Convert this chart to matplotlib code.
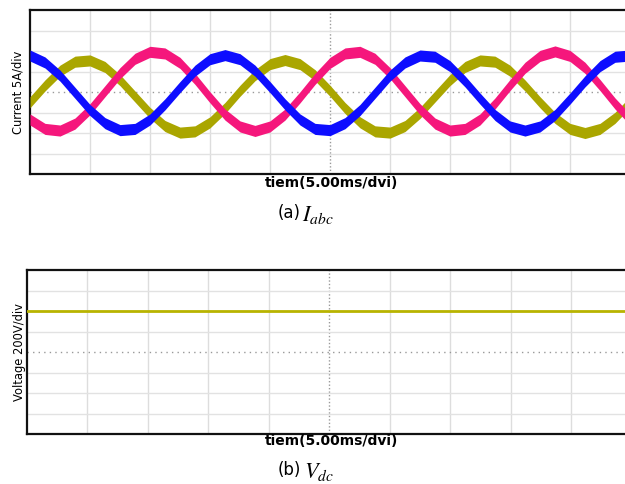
import numpy as np
import matplotlib
matplotlib.use('Agg')
import matplotlib.pyplot as plt

plt.rcParams['mathtext.fontset'] = 'stix'

# time samples (ms), 5 ms/div, 10 div
t_ms = np.arange(41) * 1.25

# three phase currents (A)
ia = [-2.5, 1.6, 5.2, 7.4, 7.7, 6.1, 2.9, -1.1, -5.1, -8.3,
      -9.9, -9.6, -7.4, -3.9, 0.3, 4.1, 6.8, 7.8, 6.8, 4.1,
      0.3, -3.9, -7.4, -9.6, -9.9, -8.3, -5.1, -1.1, 2.9, 6.1,
      7.7, 7.4, 5.2, 1.6, -2.5, -6.3, -9.0, -10.0, -9.0, -6.3, -2.5]
ib = [-6.7, -9.0, -9.4, -7.7, -4.2, 0.2, 4.6, 8.1, 9.8, 9.4,
      7.1, 3.2, -1.3, -5.5, -8.4, -9.5, -8.4, -5.5, -1.3, 3.2,
      7.1, 9.4, 9.8, 8.1, 4.6, 0.2, -4.2, -7.7, -9.4, -9.0,
      -6.7, -2.8, 1.7, 5.9, 8.8, 9.9, 8.8, 5.9, 1.7, -2.8, -6.7]
ic = [8.9, 7.2, 4.0, -0.2, -4.4, -7.6, -9.3, -9.0, -6.7, -3.0,
      1.2, 5.2, 8.0, 9.0, 8.0, 5.2, 1.2, -3.0, -6.7, -9.0,
      -9.3, -7.6, -4.4, -0.2, 4.0, 7.2, 8.9, 8.6, 6.3, 2.6,
      -1.6, -5.6, -8.4, -9.4, -8.4, -5.6, -1.6, 2.6, 6.3, 8.6, 8.9]
ripple = 1.35  # half width of the switching ripple band (A)

# dc link voltage (V)
v_t = [0, 10, 20, 30, 40, 50]
vdc = [400, 400, 400, 400, 400, 400]

colors = ['#aaa600', '#f5177c', '#0d0dff']


def scope_grid(ax, ystep, ylim):
    ax.set_xlim(0, 50)
    ax.set_ylim(-ylim, ylim)
    for x in np.arange(5, 50, 5):
        if x == 25:
            ax.axvline(x, color='#999999', lw=1.0, ls=(0, (1, 1.5)), zorder=1)
        else:
            ax.axvline(x, color='#dddddd', lw=1.0, zorder=1)
    for y in np.arange(-ylim + ystep, ylim, ystep):
        if y == 0:
            ax.axhline(y, color='#999999', lw=1.0, ls=(0, (1, 3)), zorder=1)
        else:
            ax.axhline(y, color='#e2e2e2', lw=1.0, zorder=1)
    ax.set_xticks([])
    ax.set_yticks([])
    for s in ['left', 'bottom', 'top']:
        ax.spines[s].set_linewidth(1.6)
        ax.spines[s].set_color('#111111')
    ax.spines['right'].set_visible(False)


fig = plt.figure(figsize=(6.25, 4.84), dpi=100)

ax1 = fig.add_axes([0.048, 0.6405, 0.96, 0.3388])
scope_grid(ax1, 5, 20)
for y, c in zip([ia, ib, ic], colors):
    y = np.array(y)
    ax1.fill_between(t_ms, y - ripple, y + ripple, color=c, lw=0, zorder=3)
fig.text(0.029, 0.81, 'Current 5A/div', rotation=90, ha='center', va='center',
         fontsize=8.3)
fig.text(0.531, 0.621, 'tiem(5.00ms/dvi)', ha='center', va='center',
         fontsize=10, fontweight='bold')
fig.text(0.481, 0.56, '(a)', ha='right', va='center', fontsize=12)
fig.text(0.483, 0.556, r'$I_{abc}$', ha='left', va='center', fontsize=16)

ax2 = fig.add_axes([0.0432, 0.1033, 0.968, 0.3388])
scope_grid(ax2, 200, 800)
ax2.plot(v_t, vdc, color='#b8b400', lw=2.0, zorder=3)
fig.text(0.032, 0.273, 'Voltage 200V/div', rotation=90, ha='center', va='center',
         fontsize=8.3)
fig.text(0.531, 0.089, 'tiem(5.00ms/dvi)', ha='center', va='center',
         fontsize=10, fontweight='bold')
fig.text(0.481, 0.028, '(b)', ha='right', va='center', fontsize=12)
fig.text(0.487, 0.024, r'$V_{dc}$', ha='left', va='center', fontsize=16)

fig.savefig('out.png', dpi=100)
